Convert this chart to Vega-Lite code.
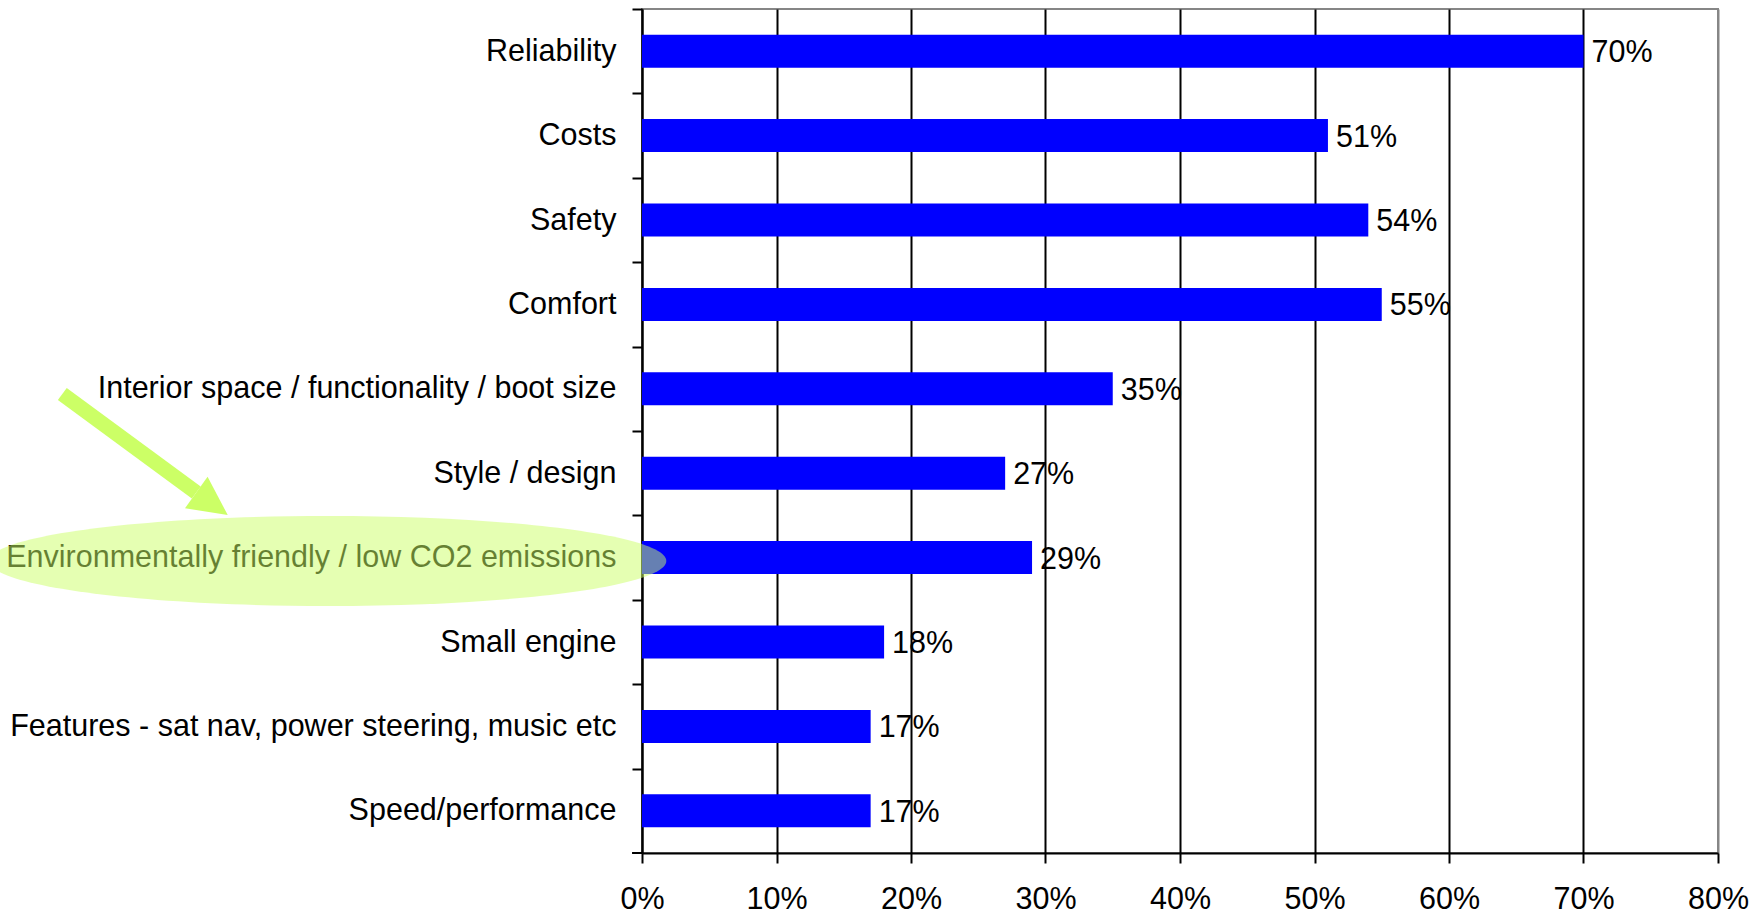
{
  "$schema": "https://vega.github.io/schema/vega-lite/v6.json",
  "width": 1076,
  "height": 844,
  "autosize": "none",
  "padding": {"left": 642, "top": 9, "right": 44, "bottom": 60},
  "config": {
    "font": "Liberation Sans",
    "view": {"stroke": "#868686", "strokeWidth": 2}
  },
  "datasets": {
    "bars": [
      {"factor": "Reliability", "share": 0.70},
      {"factor": "Costs", "share": 0.51},
      {"factor": "Safety", "share": 0.54},
      {"factor": "Comfort", "share": 0.55},
      {"factor": "Interior space / functionality / boot size", "share": 0.35},
      {"factor": "Style / design", "share": 0.27},
      {"factor": "Environmentally friendly / low CO2 emissions", "share": 0.29},
      {"factor": "Small engine", "share": 0.18},
      {"factor": "Features - sat nav, power steering, music etc", "share": 0.17},
      {"factor": "Speed/performance", "share": 0.17}
    ],
    "notes": [
      {"kind": "shaft", "x": -0.4310, "x2": -0.3314, "v": 4.562, "v2": 5.729},
      {"kind": "head", "x": -0.3197, "v": 5.862},
      {"kind": "ellipse", "x": -0.2336, "v": 6.54},
      {"kind": "tick", "x": -0.0074, "x2": 0, "v": 10, "v2": 10}
    ]
  },
  "layer": [
    {
      "data": {"name": "bars"},
      "layer": [
        {
          "mark": {"type": "bar", "color": "#0000ff"},
          "encoding": {
            "y": {
              "field": "factor", "type": "nominal", "sort": null,
              "scale": {"paddingInner": 0.609, "paddingOuter": 0.3045},
              "axis": {
                "title": null, "labelFontSize": 30.5, "labelColor": "black",
                "labelLimit": 800, "labelPadding": 16, "tickSize": 10,
                "tickColor": "black", "tickWidth": 2, "domainColor": "black",
                "domainWidth": 2, "tickOffset": -42.2, "labelOffset": 42.2,
                "grid": false, "labelBaseline": "middle"
              }
            },
            "x": {
              "field": "share", "type": "quantitative",
              "scale": {"domain": [0, 0.8], "nice": false},
              "axis": {
                "title": null, "format": ".0%",
                "values": [0, 0.1, 0.2, 0.3, 0.4, 0.5, 0.6, 0.7, 0.8],
                "labelFontSize": 30.5, "labelColor": "black", "labelPadding": 21,
                "labelFlush": false, "labelOverlap": false,
                "tickSize": 10, "tickColor": "black", "tickWidth": 2,
                "domainColor": "black", "domainWidth": 2,
                "grid": true, "gridWidth": 2,
                "gridColor": {"condition": {"test": "datum.value >= 0.79", "value": "#868686"}, "value": "black"}
              }
            }
          }
        },
        {
          "mark": {"type": "text", "align": "left", "baseline": "middle", "dx": 8, "dy": 2, "fontSize": 30.5, "color": "black"},
          "encoding": {
            "y": {"field": "factor", "type": "nominal", "sort": null},
            "x": {"field": "share", "type": "quantitative", "scale": {"domain": [0, 0.8], "nice": false}},
            "text": {"field": "share", "type": "quantitative", "format": ".0%"}
          }
        }
      ]
    },
    {
      "data": {"name": "notes"},
      "layer": [
        {
          "transform": [{"filter": "datum.kind === 'shaft'"}],
          "mark": {"type": "rule", "color": "#ccff66", "strokeWidth": 15},
          "encoding": {
            "x": {"field": "x", "type": "quantitative", "scale": {"domain": [0, 0.8], "nice": false}},
            "x2": {"field": "x2"},
            "y": {"field": "v", "type": "quantitative", "scale": {"domain": [0, 10], "reverse": true, "nice": false, "zero": false}, "axis": null},
            "y2": {"field": "v2"}
          }
        },
        {
          "transform": [{"filter": "datum.kind === 'head'"}],
          "mark": {"type": "point", "shape": "M 1 0 L -1 -1 L -1 1 Z", "filled": true, "color": "#ccff66", "opacity": 1, "size": 1498, "angle": 35.7},
          "encoding": {
            "x": {"field": "x", "type": "quantitative", "scale": {"domain": [0, 0.8], "nice": false}},
            "y": {"field": "v", "type": "quantitative", "scale": {"domain": [0, 10], "reverse": true, "nice": false, "zero": false}, "axis": null}
          }
        },
        {
          "transform": [{"filter": "datum.kind === 'ellipse'"}],
          "mark": {"type": "point", "shape": "M -1 0 C -1 -0.0735 -0.5523 -0.133 0 -0.133 C 0.5523 -0.133 1 -0.0735 1 0 C 1 0.0735 0.5523 0.133 0 0.133 C -0.5523 0.133 -1 0.0735 -1 0 Z", "filled": true, "color": "#ccff66", "opacity": 0.5, "size": 458329},
          "encoding": {
            "x": {"field": "x", "type": "quantitative", "scale": {"domain": [0, 0.8], "nice": false}},
            "y": {"field": "v", "type": "quantitative", "scale": {"domain": [0, 10], "reverse": true, "nice": false, "zero": false}, "axis": null}
          }
        },
        {
          "transform": [{"filter": "datum.kind === 'tick'"}],
          "mark": {"type": "rule", "color": "black", "strokeWidth": 2},
          "encoding": {
            "x": {"field": "x", "type": "quantitative", "scale": {"domain": [0, 0.8], "nice": false}},
            "x2": {"field": "x2"},
            "y": {"field": "v", "type": "quantitative", "scale": {"domain": [0, 10], "reverse": true, "nice": false, "zero": false}, "axis": null},
            "y2": {"field": "v2"}
          }
        }
      ]
    }
  ],
  "resolve": {"scale": {"y": "independent"}}
}
